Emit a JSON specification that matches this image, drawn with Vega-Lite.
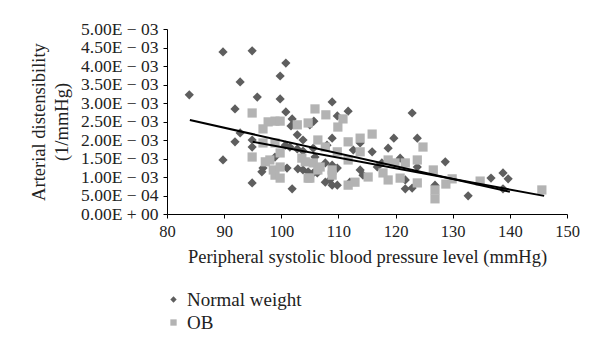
{
  "$schema": "https://vega.github.io/schema/vega-lite/v6.json",
  "width": 400,
  "height": 185,
  "autosize": "none",
  "padding": {"left": 167, "top": 29, "right": 33, "bottom": 137},
  "background": "white",
  "config": {
    "view": {"stroke": null},
    "font": "Liberation Serif",
    "axis": {"grid": false, "domainColor": "black", "tickColor": "black", "labelColor": "#222", "titleColor": "#222", "labelFont": "Liberation Serif", "titleFont": "Liberation Serif", "titleFontWeight": "normal", "labelOverlap": false},
    "legend": {"orient": "none", "legendX": -3, "legendY": 261, "title": null, "labelFontSize": 19, "labelFont": "Liberation Serif", "labelFontWeight": "normal", "labelColor": "#222", "symbolSize": 40, "rowPadding": 3, "labelOffset": 4}
  },
  "datasets": {
    "pts": [
      {"group": "Normal weight", "sbp": 89.8, "ad": 0.00438},
      {"group": "Normal weight", "sbp": 94.9, "ad": 0.00441},
      {"group": "Normal weight", "sbp": 100.8, "ad": 0.00408},
      {"group": "Normal weight", "sbp": 99.8, "ad": 0.00373},
      {"group": "Normal weight", "sbp": 92.8, "ad": 0.00357},
      {"group": "Normal weight", "sbp": 83.9, "ad": 0.00322},
      {"group": "Normal weight", "sbp": 95.8, "ad": 0.00316},
      {"group": "Normal weight", "sbp": 99.8, "ad": 0.00311},
      {"group": "Normal weight", "sbp": 91.9, "ad": 0.00284},
      {"group": "Normal weight", "sbp": 100.8, "ad": 0.00276},
      {"group": "Normal weight", "sbp": 101.9, "ad": 0.00257},
      {"group": "Normal weight", "sbp": 101.7, "ad": 0.00238},
      {"group": "Normal weight", "sbp": 92.8, "ad": 0.00219},
      {"group": "Normal weight", "sbp": 91.9, "ad": 0.00195},
      {"group": "Normal weight", "sbp": 94.9, "ad": 0.00200},
      {"group": "Normal weight", "sbp": 94.9, "ad": 0.00181},
      {"group": "Normal weight", "sbp": 89.8, "ad": 0.00146},
      {"group": "Normal weight", "sbp": 102.8, "ad": 0.00214},
      {"group": "Normal weight", "sbp": 103.8, "ad": 0.00200},
      {"group": "Normal weight", "sbp": 100.7, "ad": 0.00186},
      {"group": "Normal weight", "sbp": 101.5, "ad": 0.00181},
      {"group": "Normal weight", "sbp": 102.8, "ad": 0.00176},
      {"group": "Normal weight", "sbp": 103.8, "ad": 0.00170},
      {"group": "Normal weight", "sbp": 105.6, "ad": 0.00178},
      {"group": "Normal weight", "sbp": 98.9, "ad": 0.00154},
      {"group": "Normal weight", "sbp": 101.0, "ad": 0.00124},
      {"group": "Normal weight", "sbp": 96.8, "ad": 0.00124},
      {"group": "Normal weight", "sbp": 96.6, "ad": 0.00114},
      {"group": "Normal weight", "sbp": 102.9, "ad": 0.00122},
      {"group": "Normal weight", "sbp": 103.8, "ad": 0.00119},
      {"group": "Normal weight", "sbp": 104.7, "ad": 0.00114},
      {"group": "Normal weight", "sbp": 105.6, "ad": 0.00111},
      {"group": "Normal weight", "sbp": 94.9, "ad": 0.00084},
      {"group": "Normal weight", "sbp": 101.9, "ad": 0.00068},
      {"group": "Normal weight", "sbp": 108.9, "ad": 0.00303},
      {"group": "Normal weight", "sbp": 109.8, "ad": 0.00265},
      {"group": "Normal weight", "sbp": 111.7, "ad": 0.00278},
      {"group": "Normal weight", "sbp": 105.7, "ad": 0.00251},
      {"group": "Normal weight", "sbp": 105.0, "ad": 0.00241},
      {"group": "Normal weight", "sbp": 122.9, "ad": 0.00273},
      {"group": "Normal weight", "sbp": 108.9, "ad": 0.00205},
      {"group": "Normal weight", "sbp": 119.7, "ad": 0.00205},
      {"group": "Normal weight", "sbp": 123.8, "ad": 0.00205},
      {"group": "Normal weight", "sbp": 108.0, "ad": 0.00186},
      {"group": "Normal weight", "sbp": 112.6, "ad": 0.00173},
      {"group": "Normal weight", "sbp": 113.8, "ad": 0.00192},
      {"group": "Normal weight", "sbp": 115.9, "ad": 0.00168},
      {"group": "Normal weight", "sbp": 118.7, "ad": 0.00178},
      {"group": "Normal weight", "sbp": 105.9, "ad": 0.00154},
      {"group": "Normal weight", "sbp": 107.7, "ad": 0.00138},
      {"group": "Normal weight", "sbp": 108.9, "ad": 0.00132},
      {"group": "Normal weight", "sbp": 109.8, "ad": 0.00124},
      {"group": "Normal weight", "sbp": 106.3, "ad": 0.00111},
      {"group": "Normal weight", "sbp": 113.8, "ad": 0.00119},
      {"group": "Normal weight", "sbp": 114.3, "ad": 0.00105},
      {"group": "Normal weight", "sbp": 107.7, "ad": 0.00086},
      {"group": "Normal weight", "sbp": 108.5, "ad": 0.00092},
      {"group": "Normal weight", "sbp": 108.9, "ad": 0.00078},
      {"group": "Normal weight", "sbp": 109.8, "ad": 0.00078},
      {"group": "Normal weight", "sbp": 112.0, "ad": 0.00086},
      {"group": "Normal weight", "sbp": 116.8, "ad": 0.00127},
      {"group": "Normal weight", "sbp": 117.6, "ad": 0.00138},
      {"group": "Normal weight", "sbp": 120.8, "ad": 0.00151},
      {"group": "Normal weight", "sbp": 123.8, "ad": 0.00127},
      {"group": "Normal weight", "sbp": 121.7, "ad": 0.00092},
      {"group": "Normal weight", "sbp": 121.7, "ad": 0.00068},
      {"group": "Normal weight", "sbp": 122.9, "ad": 0.00070},
      {"group": "Normal weight", "sbp": 128.7, "ad": 0.00141},
      {"group": "Normal weight", "sbp": 126.9, "ad": 0.00078},
      {"group": "Normal weight", "sbp": 132.7, "ad": 0.00049},
      {"group": "Normal weight", "sbp": 136.7, "ad": 0.00097},
      {"group": "Normal weight", "sbp": 138.8, "ad": 0.00111},
      {"group": "Normal weight", "sbp": 139.7, "ad": 0.00095},
      {"group": "Normal weight", "sbp": 138.8, "ad": 0.00068},
      {"group": "OB", "sbp": 94.9, "ad": 0.00273},
      {"group": "OB", "sbp": 97.7, "ad": 0.00249},
      {"group": "OB", "sbp": 98.9, "ad": 0.00251},
      {"group": "OB", "sbp": 99.8, "ad": 0.00251},
      {"group": "OB", "sbp": 96.8, "ad": 0.00230},
      {"group": "OB", "sbp": 102.8, "ad": 0.00241},
      {"group": "OB", "sbp": 104.7, "ad": 0.00246},
      {"group": "OB", "sbp": 96.8, "ad": 0.00192},
      {"group": "OB", "sbp": 98.9, "ad": 0.00192},
      {"group": "OB", "sbp": 94.9, "ad": 0.00154},
      {"group": "OB", "sbp": 99.8, "ad": 0.00165},
      {"group": "OB", "sbp": 97.2, "ad": 0.00141},
      {"group": "OB", "sbp": 98.0, "ad": 0.00146},
      {"group": "OB", "sbp": 98.6, "ad": 0.00119},
      {"group": "OB", "sbp": 99.8, "ad": 0.00127},
      {"group": "OB", "sbp": 98.9, "ad": 0.00105},
      {"group": "OB", "sbp": 99.8, "ad": 0.00097},
      {"group": "OB", "sbp": 103.6, "ad": 0.00151},
      {"group": "OB", "sbp": 104.2, "ad": 0.00141},
      {"group": "OB", "sbp": 104.7, "ad": 0.00097},
      {"group": "OB", "sbp": 106.4, "ad": 0.00200},
      {"group": "OB", "sbp": 106.4, "ad": 0.00119},
      {"group": "OB", "sbp": 105.9, "ad": 0.00284},
      {"group": "OB", "sbp": 107.8, "ad": 0.00268},
      {"group": "OB", "sbp": 110.8, "ad": 0.00257},
      {"group": "OB", "sbp": 109.9, "ad": 0.00235},
      {"group": "OB", "sbp": 115.9, "ad": 0.00216},
      {"group": "OB", "sbp": 113.8, "ad": 0.00205},
      {"group": "OB", "sbp": 111.7, "ad": 0.00195},
      {"group": "OB", "sbp": 107.7, "ad": 0.00181},
      {"group": "OB", "sbp": 109.8, "ad": 0.00168},
      {"group": "OB", "sbp": 111.7, "ad": 0.00146},
      {"group": "OB", "sbp": 113.8, "ad": 0.00168},
      {"group": "OB", "sbp": 105.6, "ad": 0.00138},
      {"group": "OB", "sbp": 106.8, "ad": 0.00127},
      {"group": "OB", "sbp": 108.9, "ad": 0.00119},
      {"group": "OB", "sbp": 108.9, "ad": 0.00105},
      {"group": "OB", "sbp": 105.0, "ad": 0.00097},
      {"group": "OB", "sbp": 111.7, "ad": 0.00078},
      {"group": "OB", "sbp": 112.9, "ad": 0.00086},
      {"group": "OB", "sbp": 115.2, "ad": 0.00100},
      {"group": "OB", "sbp": 117.8, "ad": 0.00111},
      {"group": "OB", "sbp": 118.7, "ad": 0.00146},
      {"group": "OB", "sbp": 124.8, "ad": 0.00181},
      {"group": "OB", "sbp": 119.9, "ad": 0.00138},
      {"group": "OB", "sbp": 121.7, "ad": 0.00138},
      {"group": "OB", "sbp": 123.8, "ad": 0.00146},
      {"group": "OB", "sbp": 118.7, "ad": 0.00092},
      {"group": "OB", "sbp": 120.8, "ad": 0.00097},
      {"group": "OB", "sbp": 123.8, "ad": 0.00084},
      {"group": "OB", "sbp": 126.6, "ad": 0.00119},
      {"group": "OB", "sbp": 126.9, "ad": 0.00065},
      {"group": "OB", "sbp": 126.9, "ad": 0.00041},
      {"group": "OB", "sbp": 128.8, "ad": 0.00081},
      {"group": "OB", "sbp": 129.9, "ad": 0.00095},
      {"group": "OB", "sbp": 134.8, "ad": 0.00089},
      {"group": "OB", "sbp": 145.6, "ad": 0.00065}
    ],
    "trend": [
      {"group": "Normal weight", "sbp": 84, "ad": 0.00254},
      {"group": "Normal weight", "sbp": 140, "ad": 0.00060},
      {"group": "OB", "sbp": 95, "ad": 0.00195},
      {"group": "OB", "sbp": 146, "ad": 0.00049}
    ]
  },
  "layer": [
    {
      "data": {"name": "pts"},
      "mark": {"type": "point", "filled": true, "opacity": 1, "size": 85},
      "encoding": {
        "x": {
          "field": "sbp", "type": "quantitative",
          "scale": {"domain": [80, 150], "nice": false, "zero": false},
          "axis": {"values": [80, 90, 100, 110, 120, 130, 140, 150], "tickCount": 20, "title": "Peripheral systolic blood pressure level (mmHg)", "labelFontSize": 16.5, "titleFontSize": 18.5, "tickSize": 4, "labelPadding": 5, "titlePadding": 8, "labelFlush": false}
        },
        "y": {
          "field": "ad", "type": "quantitative",
          "scale": {"domain": [0, 0.005], "nice": false},
          "axis": {
            "values": [0, 0.0005, 0.001, 0.0015, 0.002, 0.0025, 0.003, 0.0035, 0.004, 0.0045, 0.005],
            "tickCount": 20,
            "labelOverlap": false,
            "labelExpr": "datum.value == 0 ? '0.00E + 00' : (datum.value < 0.00099 ? format(datum.value * 10000, '.2f') + 'E − 04' : format(datum.value * 1000, '.2f') + 'E − 03')",
            "title": ["Arterial distensibility", "(1/mmHg)"],
            "labelFontSize": 17.5, "titleFontSize": 18.5, "tickSize": 4, "labelPadding": 5, "titlePadding": 9, "titleLineHeight": 23
          }
        },
        "shape": {
          "field": "group", "type": "nominal",
          "scale": {"domain": ["Normal weight", "OB"], "range": ["diamond", "square"]}
        },
        "color": {
          "field": "group", "type": "nominal",
          "scale": {"domain": ["Normal weight", "OB"], "range": ["#5e5e5e", "#b3b3b3"]}
        }
      }
    },
    {
      "data": {"name": "trend"},
      "mark": {"type": "line", "color": "black", "strokeWidth": 2},
      "encoding": {
        "x": {"field": "sbp", "type": "quantitative"},
        "y": {"field": "ad", "type": "quantitative"},
        "detail": {"field": "group", "type": "nominal"}
      }
    }
  ]
}
